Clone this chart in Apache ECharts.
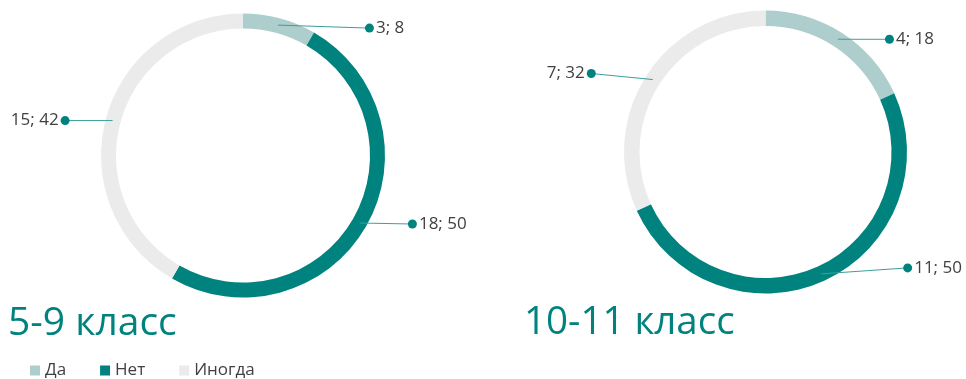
<!DOCTYPE html>
<html>
<head>
<meta charset="utf-8">
<script src="https://cdn.jsdelivr.net/npm/echarts@6/dist/echarts.min.js"></script>
<style>
  html, body { margin: 0; padding: 0; background: #ffffff; }
  #chart { width: 966px; height: 379px; }
</style>
</head>
<body>
<div id="chart"></div>
<script>
// Survey answers by grade group
const categories = ['Да', 'Нет', 'Иногда'];
const grade59Counts = [3, 18, 15];
const grade59Percents = [8, 50, 42];
const grade1011Counts = [4, 11, 7];
const grade1011Percents = [18, 50, 32];
const groupTitles = ['5-9 класс', '10-11 класс'];

const colors = ['#aecdcd', '#00837f', '#ebebeb'];
const lineColor = '#3d9f9b';
const font = '"Open Sans", "Noto Sans", sans-serif';

const chart = echarts.init(document.getElementById('chart'));

function ringData(counts) {
  return categories.map((name, i) => ({
    name: name,
    value: counts[i],
    itemStyle: { color: colors[i] }
  }));
}

// Leader-line lengths per slice (horizontal run from the ring to the dot)
function labelData(counts, percents, runs, sides) {
  return categories.map((name, i) => ({
    name: name,
    value: counts[i],
    labelLine: { length: 0, length2: runs[i] },
    label: {
      formatter: sides[i] === 'r'
        ? '{dot|}{t|' + counts[i] + '; ' + percents[i] + '}'
        : '{t|' + counts[i] + '; ' + percents[i] + '}{dot|}'
    }
  }));
}

const richStyle = {
  dot: { width: 9, height: 9, borderRadius: 4.5, backgroundColor: '#00837f' },
  t: { fontSize: 17, color: '#404040', fontFamily: font, padding: [0, 2, 0, 2] }
};

function ringSeries(center, radius, counts) {
  return {
    type: 'pie',
    center: center,
    radius: radius,
    startAngle: 90,
    clockwise: true,
    silent: true,
    label: { show: false },
    labelLine: { show: false },
    data: ringData(counts)
  };
}

// Slight vertical tilt of each leader line's end point
function tiltLayout(shifts) {
  return function (params) {
    const pts = params.labelLinePoints;
    const dy = shifts[params.dataIndex] || 0;
    if (!pts || !dy) return {};
    const moved = pts.map(p => [p[0], p[1]]);
    moved[moved.length - 1][1] += dy;
    return { dy: dy, labelLinePoints: moved };
  };
}

function labelSeries(center, r, counts, percents, runs, sides, shifts) {
  return {
    type: 'pie',
    center: center,
    radius: [r - 1, r],
    startAngle: 90,
    clockwise: true,
    silent: true,
    z: 3,
    avoidLabelOverlap: false,
    itemStyle: { color: 'rgba(0,0,0,0)' },
    label: {
      show: true,
      position: 'outside',
      distanceToLabelLine: -4,
      rich: richStyle
    },
    labelLine: {
      show: true,
      smooth: false,
      lineStyle: { color: lineColor, width: 1 }
    },
    labelLayout: tiltLayout(shifts),
    data: labelData(counts, percents, runs, sides)
  };
}

chart.setOption({
  animation: false,
  backgroundColor: '#ffffff',
  title: [
    {
      text: groupTitles[0], left: 8, top: 304, padding: 0,
      textStyle: { fontSize: 39, fontWeight: 'normal', color: '#00837f', fontFamily: font }
    },
    {
      text: groupTitles[1], left: 524, top: 304, padding: 0,
      textStyle: { fontSize: 38.5, fontWeight: 'normal', color: '#00837f', fontFamily: font }
    }
  ],
  legend: {
    left: 30,
    top: 362,
    padding: 0,
    itemWidth: 10,
    itemHeight: 10,
    itemGap: 34,
    icon: 'rect',
    textStyle: { fontSize: 17, color: '#404040', fontFamily: font },
    data: categories.map((name, i) => ({ name: name, itemStyle: { color: colors[i] } }))
  },
  series: [
    ringSeries([243, 155.5], [127, 142], grade59Counts),
    ringSeries([765.5, 152], [126, 141.5], grade1011Counts),
    labelSeries([243, 155.5], 135, grade59Counts, grade59Percents, [91, 52, 47], ['r', 'r', 'l'], [3, 1, 0]),
    labelSeries([765.5, 152], 134, grade1011Counts, grade1011Percents, [51, 86, 61], ['r', 'r', 'l'], [0, -6, -6])
  ]
});
</script>
</body>
</html>
